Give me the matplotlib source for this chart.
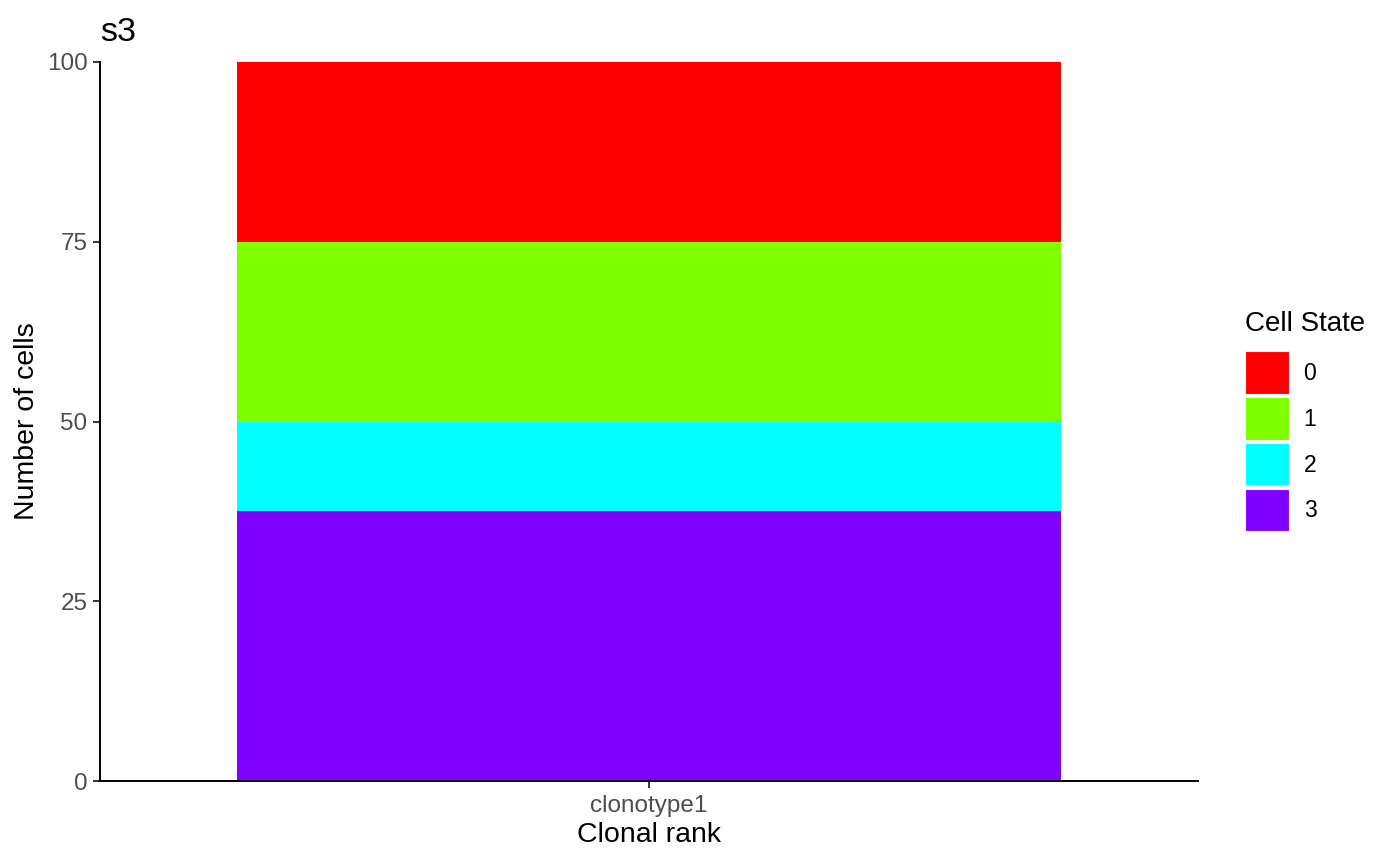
import numpy as np
import matplotlib
matplotlib.use("Agg")
import matplotlib.pyplot as plt
from matplotlib.patches import Patch

plt.rcParams['font.family'] = ['Liberation Sans', 'DejaVu Sans']

# data
clonotypes = ["clonotype1"]
states = ["0", "1", "2", "3"]
cells = {"0": [25], "1": [25], "2": [12.5], "3": [37.5]}
state_colors = {"0": "#FF0000", "1": "#80FF00", "2": "#00FFFF", "3": "#8000FF"}
yticks = [0, 25, 50, 75, 100]

fig = plt.figure(figsize=(14, 8.66), dpi=100)
ax = fig.add_axes([100/1400, 1 - 781/866, 1098/1400, 719/866])

x = np.arange(len(clonotypes))
bottom = np.zeros(len(clonotypes))
# stack from last state at bottom to first state on top, like ggplot
for s in reversed(states):
    vals = np.array(cells[s], dtype=float)
    ax.bar(x, vals, width=0.9, bottom=bottom, color=state_colors[s], linewidth=0)
    bottom += vals

ax.set_xlim(-0.6, len(clonotypes) - 1 + 0.6)
ax.set_ylim(0, 100)
ax.set_yticks(yticks)
ax.set_xticks(x)
ax.set_xticklabels(clonotypes)

for side in ["top", "right"]:
    ax.spines[side].set_visible(False)
for side in ["left", "bottom"]:
    ax.spines[side].set_linewidth(1.4)
    ax.spines[side].set_color("black")
ax.tick_params(axis="both", length=5, width=1.4, color="#333333",
               labelcolor="#4D4D4D", labelsize=17.5, pad=4)
ax.tick_params(axis="x", pad=5)

ax.set_xlabel("Clonal rank", fontsize=20.5, labelpad=4)
ax.set_ylabel("Number of cells", fontsize=20.5, labelpad=5)
ax.set_title("s3", fontsize=24.5, loc="left", pad=15)

handles = [Patch(facecolor=state_colors[s], edgecolor="white", linewidth=1.5) for s in states]
leg = fig.legend(handles, states, loc="upper left",
                 bbox_to_anchor=(1236/1400, 1 - 302/866),
                 frameon=False, fontsize=16.5, title="Cell State",
                 title_fontsize=20, handlelength=1.95, handleheight=2.55,
                 labelspacing=0.1, handletextpad=0.6, borderaxespad=0)
leg._legend_box.align = "left"
leg._legend_box.sep = 10

fig.savefig("out.png", dpi=100)
